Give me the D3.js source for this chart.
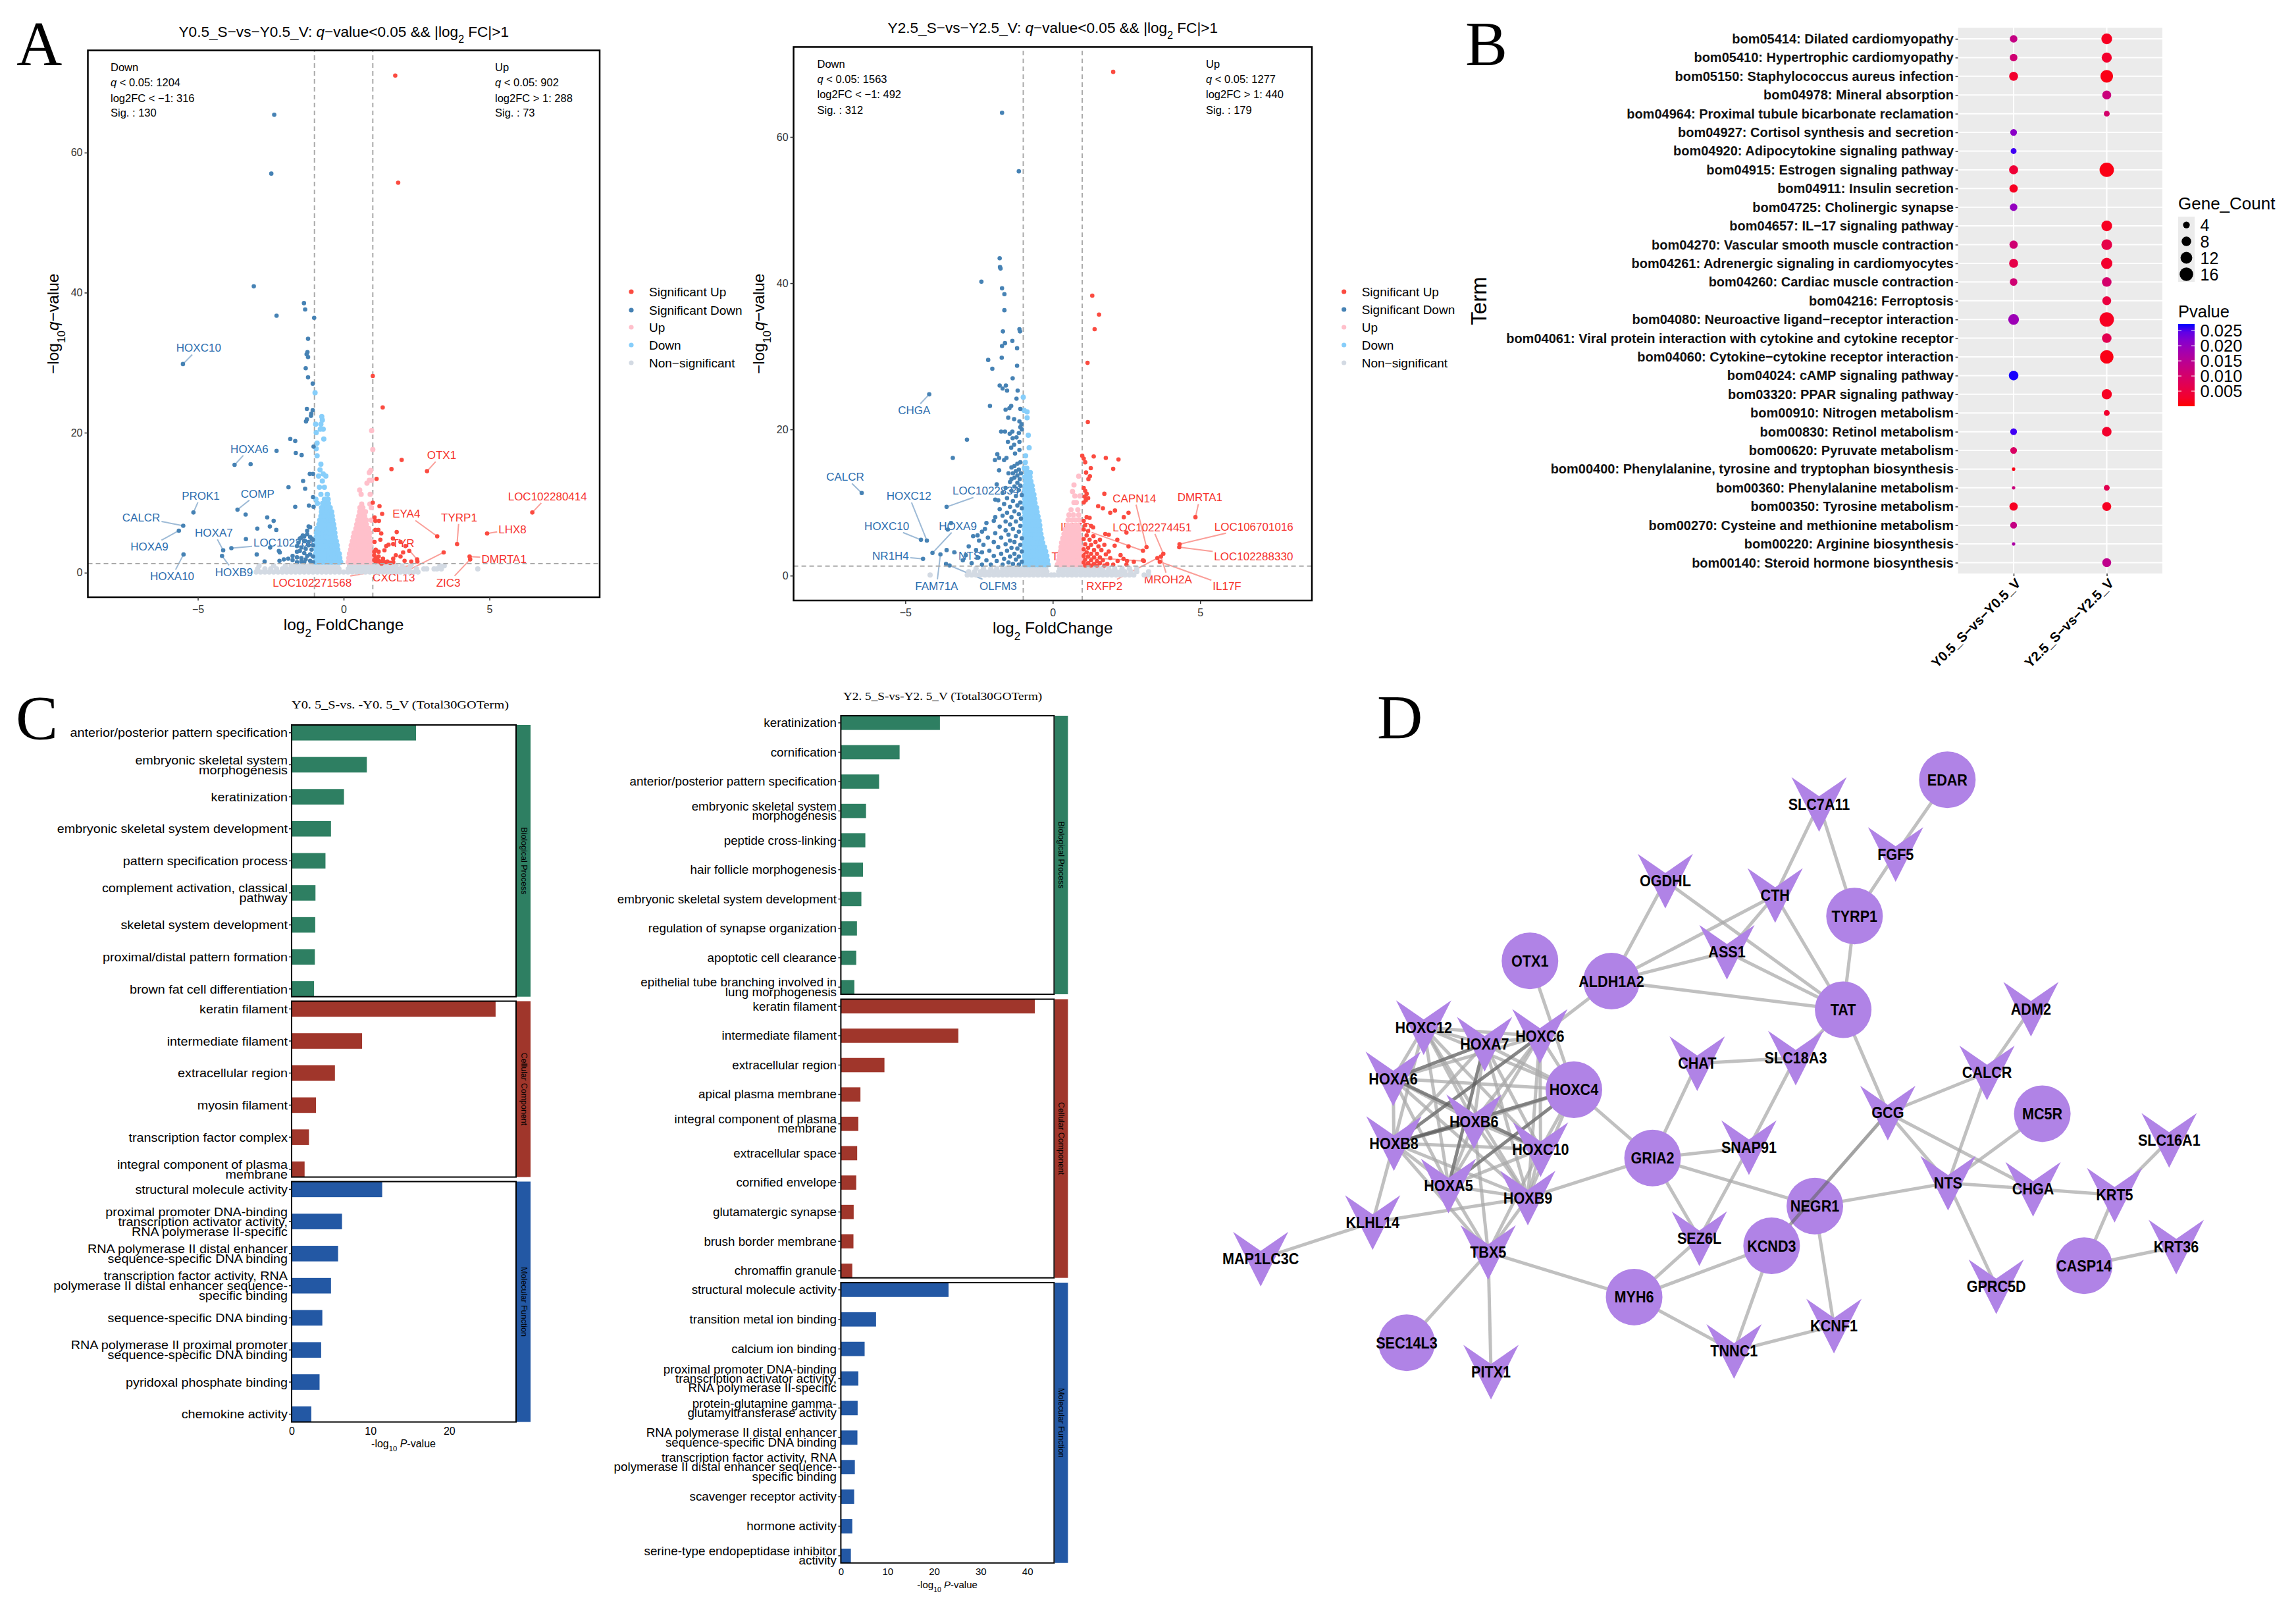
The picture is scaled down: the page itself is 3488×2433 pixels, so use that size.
<!DOCTYPE html>
<html><head><meta charset="utf-8">
<script src="https://cdnjs.cloudflare.com/ajax/libs/d3/7.8.5/d3.min.js"></script>
<style>html,body{margin:0;background:#fff}svg{display:block}text{font-family:"Liberation Sans",Arial,sans-serif}</style>
</head><body><svg id="fig" width="3488" height="2433"></svg>
<script>
// ---------- Panel A data: volcano plots (log2FC, -log10 q) ----------
const a_sigDown=[[-2.38,65.4],[-2.48,57],[-3.08,40.9],[-1.36,38.5],[-1.32,37.6],[-2.3,36.7],[-1.01,36.4],[-1.22,33.4],[-1.24,31.5],[-1.27,31.2],[-1.22,30.8],[-1.3,29.2],[-1.22,27.9],[-1.06,27],[-5.51,29.8],[-1.26,23.4],[-1.06,23.2],[-1.11,22.7],[-1.12,22.4],[-1.26,21.9],[-1.29,21.6],[-1.83,19.1],[-1.66,18.8],[-2.3,17.4],[-1.64,17.1],[-1.44,16.8],[-1.03,18],[-3.74,15.4],[-3.19,15.5],[-1.16,14.1],[-1.05,14.1],[-1.39,13.1],[-1.89,12.2],[-1.32,12],[-1.19,9.6],[-1.66,9.4],[-1.03,9.4],[-1.05,10.8],[-3.64,9],[-3.36,8.3],[-5.15,8.6],[-2.62,7.9],[-2.4,7.4],[-2.96,6.3],[-2.53,6.6],[-2.31,6.1],[-5.5,6.7],[-5.65,6],[-3.35,4.8],[-4.13,3.2],[-3.85,3.5],[-5.49,2.6],[-4.17,2.4],[-2.52,3.6],[-2.98,2.6],[-2.71,1.6],[-2.22,3.1],[-2.19,2.9],[-1.2,6.6],[-1.15,6.5],[-1.25,6],[-1.35,5.2],[-1.25,5.5],[-1.4,5.3],[-1.45,5],[-1.5,4.9],[-1.15,5.1],[-1.1,4.9],[-1.2,4.4],[-1.35,4.5],[-1.05,4.7],[-1.55,4.3],[-1.6,3.8],[-1.45,3.6],[-1.3,3.4],[-1.1,3.3],[-1.05,3.9],[-1.2,3.9],[-1.5,3.1],[-1.6,3],[-1.35,2.8],[-1.15,2.6],[-1.25,2.4],[-1.75,2.4],[-1.9,2],[-1.45,2.1],[-1.6,2.2],[-1.05,2.3],[-2.05,1.9],[-1.3,1.9],[-1.15,1.7],[-1.45,1.6],[-1.75,1.8],[-2.2,1.7],[-1.35,1.5],[-1.05,1.5],[-1.6,1.5]];
const a_sigUp=[[1.77,71],[1.87,55.7],[1,28.1],[1.34,23.6],[1.99,16.1],[2.86,14.5],[1.64,14.8],[1.13,13.4],[1,10],[1.23,9.5],[6.47,8.6],[1.32,8.4],[1.06,7.9],[1.09,7.4],[1.21,7.4],[1.19,6.1],[1.09,6.1],[1.82,5.8],[4.92,5.6],[3.21,5.2],[1.29,5.6],[1.26,4.7],[1.69,4.9],[1.95,4.4],[1.7,4.1],[1.46,3.8],[1.06,4.4],[3.89,4.1],[3.43,2.9],[2.12,3.8],[1.54,4],[2.25,3.1],[2.04,2.9],[1.79,2.5],[1.95,2.3],[1.7,2],[2.09,1.7],[2.32,1.6],[2.52,1.9],[2.53,1.6],[4.32,2.3],[4.34,1.9],[1.05,2.5],[1.1,2.1],[1.15,1.9],[1.2,1.7],[1.25,1.5],[1.3,1.6],[1.35,2],[1.4,1.5],[1.1,1.5],[1.05,1.8],[1.45,1.5],[1.5,1.6],[1.2,2.3],[1.3,1.3],[1.6,1.4],[1.05,3],[1.1,3.3],[1.2,3],[1.4,3.2],[1.7,1.5]];
const a_downRows=[[1.5,[-.96,-.85,-.74,-.63,-.52,-.41,-.3,-.19,-.1]],[2.1,[-.95,-.84,-.73,-.62,-.51,-.4,-.29,-.18,-.13]],[2.7,[-.96,-.85,-.74,-.63,-.52,-.41,-.3,-.2,-.15]],[3.3,[-.95,-.84,-.73,-.62,-.51,-.4,-.29,-.2]],[3.9,[-.96,-.85,-.74,-.63,-.52,-.41,-.3,-.22]],[4.5,[-.95,-.84,-.73,-.62,-.51,-.4,-.31,-.25]],[5.1,[-.94,-.83,-.72,-.61,-.5,-.39,-.29]],[5.7,[-.93,-.82,-.71,-.6,-.49,-.38,-.3]],[6.3,[-.92,-.81,-.7,-.59,-.48,-.37,-.32]],[6.9,[-.85,-.74,-.63,-.52,-.41,-.34]],[7.5,[-.82,-.72,-.62,-.52,-.43,-.37]],[8.1,[-.78,-.68,-.58,-.48,-.39]],[8.7,[-.76,-.66,-.56,-.46,-.41]],[9.3,[-.76,-.66,-.56,-.46]],[9.9,[-.9,-.72,-.62,-.52]],[10.5,[-.95,-.66,-.53]],[11.2,[-.78,-.56]],[12.2,[-.83,-.66]],[13.1,[-.73]],[13.8,[-.86,-.61]],[14.1,[-.7]],[14.7,[-.81]],[15.5,[-.78]],[16.7,[-.91]],[17.7,[-.94]],[18.5,[-.91]],[19.1,[-.68]],[20,[-.94]],[20.5,[-.7,-.8]],[21.2,[-.96,-.78]],[21.8,[-.73]],[22.3,[-.75]],[25.7,[-.98]]];
const a_upRows=[[1.5,[.16,.27,.38,.49,.6,.71,.82,.93]],[2.1,[.18,.29,.4,.51,.62,.73,.84,.95]],[2.7,[.2,.31,.42,.53,.64,.75,.86,.96]],[3.3,[.24,.35,.46,.57,.68,.79,.9]],[3.9,[.26,.37,.48,.59,.7,.81,.92]],[4.5,[.3,.41,.52,.63,.74,.85,.94]],[5.1,[.33,.44,.55,.66,.77,.88]],[5.7,[.36,.47,.58,.69,.8,.9]],[6.3,[.42,.53,.64,.75,.86]],[6.9,[.45,.56,.67,.78]],[7.5,[.48,.58,.68,.78,.95]],[8.1,[.52,.62,.72]],[8.7,[.55,.65,.75]],[9.3,[.56,.66,.95]],[9.8,[.62,.9]],[11.2,[.6,.91]],[11.8,[.55]],[12.8,[.8]],[13.2,[.88,.96]],[14.3,[.88]],[14.6,[.93]],[17.6,[1]],[20.3,[.96]]];
const a_nsRows=[[.1,[-3,-2.85,-2.7,-2.55,-2.4,-2.25,-2.1,-1.95,-1.8,-1.65,-1.5,-1.35,-1.2,-1.05,-.9,-.75,-.6,-.45,-.3,-.15,0,.15,.3,.45,.6,.75,.9,1.05,1.2,1.35,1.5,1.65,1.8,1.95,2.1,2.25,2.4,2.55]],[.55,[-2.95,-2.7,-2.5,-2.3,-2.1,-1.95,-1.8,-1.65,-1.5,-1.35,-1.2,-1.05,-.9,-.75,-.6,-.45,-.3,-.16,.16,.3,.45,.6,.75,.9,1.05,1.2,1.35,1.5,1.65,1.8,1.95,2.1,2.25,2.5,2.75,2.85,3.1,3.2,3.35,4.6]],[1,[-2.9,-2.4,-2,-1.8,-1.65,-1.5,-1.35,-1.2,-1.05,-.9,-.75,-.6,-.45,-.3,-.2,.2,.3,.45,.6,.75,.9,1.05,1.2,1.35,1.5,1.65,1.8,2,2.3,3.3,3.45]]];
const a_labels=[["HOXC10",-4.97,32.1,-5.51,29.8,0],["HOXA6",-3.23,17.7,-3.74,15.4,0],["PROK1",-4.9,11,-5.15,8.6,0],["COMP",-2.95,11.3,-3.64,9,0],["CALCR",-6.94,7.9,-5.5,6.7,0],["HOXA9",-6.66,3.7,-5.65,6,0],["HOXA7",-4.45,5.7,-4.13,3.2,0],["LOC102284275",-1.74,4.3,-3.85,3.5,0],["HOXA10",-5.88,-.5,-5.49,2.6,0],["HOXB9",-3.76,.1,-4.17,2.4,0],["OTX1",3.36,16.8,2.86,14.5,1],["LOC102280414",6.99,10.9,6.47,8.6,1],["EYA4",2.15,8.4,3.21,5.2,1],["TYRP1",3.96,7.9,3.89,4.1,1],["LHX8",5.79,6.2,4.92,5.6,1],["TYR",2.04,4.2,2.52,1.9,1],["DMRTA1",5.5,2,4.32,2.3,1],["CXCL13",1.72,-.7,3.43,2.9,1],["LOC102271568",-1.08,-1.4,2.4,1.1,1],["ZIC3",3.59,-1.4,4.34,1.9,1]];
const b_sigDown=[[-1.72,63.3],[-1.15,55.3],[-1.8,43.4],[-1.79,42.2],[-1.77,42],[-2.42,40.2],[-1.72,39.3],[-1.64,38.5],[-1.64,36.3],[-1.69,33.4],[-1.13,33.7],[-1.11,33.4],[-1.37,32.1],[-1.62,31.8],[-1.72,31.4],[-1.21,31.1],[-1.73,29.8],[-2.19,29.5],[-1.21,28.7],[-2.05,28.3],[-1.36,27],[-1.8,26],[-1.59,26],[-1.7,25.6],[-1.55,25.3],[-1.19,25.3],[-4.19,24.8],[-1.23,24.2],[-2.13,23.2],[-1.41,23.2],[-1.47,22.9],[-1.1,22.8],[-1.6,22.7],[-1.51,21.6],[-1.31,21.4],[-1.13,21.1],[-1.06,20.7],[-1.1,20.3],[-1.05,20],[-1.75,19.7],[-1.62,19.7],[-1.37,19.7],[-1.46,19.4],[-1.15,19.5],[-2.91,18.6],[-1.36,18.8],[-1.23,18.9],[-1.52,18.3],[-1.13,18.3],[-1.31,17.9],[-1.41,17.5],[-1.13,17.2],[-1.28,16.7],[-1.88,16.6],[-3.39,16.1],[-1.82,16.1],[-1.57,16.1],[-1.96,15.8],[-1.65,15.8],[-6.48,11.3],[-3.6,9.4],[-4.47,4.9],[-4.27,4.8],[-4.08,3.1],[-4.4,2.3],[-3.81,2.9],[-3.6,3.5],[-3.34,3.2],[-3.62,1.6],[-3.5,1.4],[-3.45,7.2],[-3.56,6.3],[-2.55,5.5],[-1.1,15.5],[-1.2,15.3],[-1.3,15],[-1.4,14.8],[-1.15,14.5],[-1.25,14.3],[-1.35,14],[-1.08,14],[-1.2,13.7],[-1.3,13.4],[-1.12,13.2],[-1.4,13.2],[-1.82,14.4],[-1.5,14],[-1.45,12.8],[-1.2,12.7],[-1.1,12.3],[-1.3,12.2],[-1.9,12.5],[-1.6,12],[-1.15,11.7],[-1.4,11.6],[-1.7,11.3],[-1.05,11],[-1.25,10.9],[-1.55,10.6],[-1.95,10.4],[-1.85,10.3],[-1.35,10.2],[-1.1,10],[-1.65,9.8],[-1.2,9.6],[-1.45,9.4],[-1.05,9.2],[-1.8,9.1],[-1.3,8.8],[-1.55,8.6],[-1.15,8.4],[-1.7,8.2],[-1.95,8],[-1.4,8],[-1.08,7.8],[-2,7.5],[-1.6,7.4],[-1.25,7.4],[-2.25,7.2],[-1.45,7],[-1.1,6.8],[-1.8,6.7],[-2.3,6.4],[-1.35,6.4],[-1.6,6.2],[-2.4,6],[-1.15,6],[-1.95,5.8],[-1.5,5.6],[-2.7,5.4],[-2.2,5.2],[-1.25,5.4],[-1.75,5.2],[-1.05,5.1],[-2.5,4.8],[-1.45,4.8],[-2,4.6],[-1.3,4.6],[-1.6,4.3],[-1.1,4.2],[-2.35,4.2],[-2.85,4],[-1.85,3.9],[-1.4,3.8],[-1.2,3.7],[-2.6,3.5],[-2.15,3.4],[-1.55,3.4],[-1.05,3.3],[-2.4,3.2],[-1.75,3],[-1.3,3],[-2.95,2.8],[-2,2.7],[-1.45,2.6],[-1.15,2.6],[-2.55,2.5],[-1.65,2.3],[-1.25,2.2],[-2.25,2.1],[-3.05,2.1],[-1.9,2],[-1.05,1.9],[-1.5,1.8],[-2.75,1.7],[-1.35,1.6],[-2.1,1.5],[-1.7,1.5],[-1.15,1.5],[-2.4,1.5]];
const b_sigUp=[[2.05,68.9],[1.34,38.3],[1.57,35.7],[1.42,33.7],[1.18,29.1],[1.19,21],[1,16.4],[1.39,16.3],[1.8,16.1],[2.23,15.9],[1.05,16],[1.1,15.5],[2.05,14.6],[1.29,14.7],[1.13,14.1],[1.26,13.6],[1.21,13.2],[1.75,11.2],[1.54,9.5],[1.7,9.2],[1.95,8.6],[2.57,8.6],[2.41,8],[4.84,8],[2.11,8.9],[2.5,5.9],[1.37,6.6],[1.78,5.7],[1.9,5.6],[2.19,4.9],[2.57,4],[3.18,3.9],[3.06,3.4],[4.3,4.3],[4.29,3.9],[3.75,3],[3.67,2.6],[3.55,2.4],[3.63,1.9],[3.09,2],[3.06,2.1],[2.52,2],[1.05,12],[1.1,11.6],[1.15,11.2],[1.08,10.8],[1.2,10.6],[1.12,10.3],[1.05,10],[1.15,8],[1.05,7.5],[1.25,7.9],[1.1,6.9],[1.3,6.8],[1.05,6.3],[1.2,6.1],[1.15,5.5],[1.38,5.4],[1.05,5],[1.25,4.9],[1.6,4.9],[1.45,4.6],[1.1,4.3],[1.3,4.2],[1.75,4.2],[1.55,4],[2.1,4.1],[1.2,3.8],[1.05,3.6],[1.4,3.5],[1.65,3.5],[1.9,3.3],[1.15,3.2],[1.3,3],[1.5,3],[1.8,2.9],[2.3,2.8],[1.05,2.7],[1.2,2.6],[1.4,2.5],[1.6,2.5],[1.95,2.4],[2.4,2.3],[1.1,2.2],[1.3,2.1],[1.5,2],[1.7,2.1],[2.2,2],[2.75,1.9],[1.05,1.8],[1.2,1.7],[1.4,1.6],[1.6,1.7],[1.85,1.6],[2.05,1.5],[2.5,1.5],[1.1,1.4],[1.3,1.4],[1.5,1.4],[1.75,1.4]];
const b_downRows=[[1.5,[-.96,-.87,-.78,-.69,-.6,-.51,-.42,-.33,-.24,-.16]],[2.1,[-.95,-.86,-.77,-.68,-.59,-.5,-.41,-.32,-.23,-.18]],[2.7,[-.96,-.87,-.78,-.69,-.6,-.51,-.42,-.33,-.25,-.2]],[3.3,[-.95,-.86,-.77,-.68,-.59,-.5,-.41,-.32,-.24]],[3.9,[-.96,-.87,-.78,-.69,-.6,-.51,-.42,-.34,-.28]],[4.5,[-.95,-.86,-.77,-.68,-.59,-.5,-.41,-.34]],[5.1,[-.96,-.87,-.78,-.69,-.6,-.51,-.42,-.37]],[5.7,[-.95,-.86,-.77,-.68,-.59,-.5,-.4]],[6.3,[-.96,-.87,-.78,-.69,-.6,-.51,-.43]],[6.9,[-.95,-.86,-.77,-.68,-.59,-.5,-.44]],[7.5,[-.96,-.87,-.78,-.69,-.6,-.52,-.46]],[8.1,[-.95,-.86,-.77,-.68,-.59,-.5]],[8.7,[-.96,-.87,-.78,-.69,-.6,-.53]],[9.3,[-.95,-.86,-.77,-.68,-.6,-.55]],[9.9,[-.96,-.87,-.78,-.69,-.6]],[10.5,[-.95,-.86,-.77,-.68,-.62]],[11.1,[-.96,-.87,-.78,-.7,-.64]],[11.7,[-.95,-.86,-.77,-.68]],[12.3,[-.94,-.85,-.76,-.7]],[12.9,[-.92,-.83,-.74]],[13.5,[-.95,-.86,-.77]],[14.1,[-.9,-.81,-.76]],[14.7,[-.97,-.88]],[15.5,[-.93]],[16.4,[-.92]],[17.5,[-.8]],[19.2,[-.83]],[21.6,[-.87]],[22.4,[-.87]],[22.6,[-.97]],[24.4,[-1]]];
const b_upRows=[[1.5,[.16,.26,.36,.46,.56,.66,.76,.86,.96]],[2.1,[.2,.3,.4,.5,.6,.7,.8,.9,.97]],[2.7,[.22,.32,.42,.52,.62,.72,.82,.92]],[3.3,[.26,.36,.46,.56,.66,.76,.86,.96]],[3.9,[.28,.38,.48,.58,.68,.78,.88,.97]],[4.5,[.3,.4,.5,.6,.7,.8,.9]],[5.1,[.34,.44,.54,.64,.74,.84,.94]],[5.7,[.38,.48,.58,.68,.78,.88]],[6.3,[.42,.52,.62,.72,.82,.93]],[6.9,[.5,.62,.74,.86]],[7.6,[.52,.65,.78,.9]],[8.3,[.55,.7,.88]],[9,[.62,.85]],[10,[.72,.8]],[10.9,[.92,.75]],[11.5,[.67]],[12.4,[.72]],[13.6,[.88]]];
const b_nsRows=[[.1,[-2.9,-2.75,-2.6,-2.45,-2.3,-2.15,-2,-1.85,-1.7,-1.55,-1.4,-1.25,-1.1,-.95,-.8,-.65,-.5,-.35,-.2,-.05,.05,.2,.35,.5,.65,.8,.95,1.1,1.25,1.4,1.55,1.7,1.85,2,2.15,2.3,2.45,2.6,2.75,3.1,3.25,-4.16]],[.55,[-2.85,-2.65,-2.45,-2.3,-2.15,-2,-1.85,-1.7,-1.55,-1.4,-1.25,-1.1,-.95,-.8,-.65,-.5,-.35,-.2,.2,.35,.5,.65,.8,.95,1.1,1.25,1.4,1.55,1.7,1.85,2,2.15,2.3,2.45,2.65,2.85,3.25]],[1,[-2.6,-2.35,-2.1,-1.9,-1.7,-1.55,-1.4,-1.25,-1.1,-.95,-.8,-.65,-.5,-.35,-.24,.24,.35,.5,.65,.8,.95,1.1,1.25,1.4,1.55,1.7,1.9,2.1,2.35,2.6,2.85]]];
const b_labels=[["CHGA",-4.7,22.6,-4.19,24.8,0],["CALCR",-7.04,13.5,-6.48,11.3,0],["HOXC12",-4.88,10.9,-4.27,4.8,0],["LOC102283473",-2.06,11.6,-3.6,9.4,0],["HOXC10",-5.63,6.8,-4.47,4.9,0],["HOXA9",-3.22,6.8,-4.08,3.1,0],["NR1H4",-5.5,2.7,-4.4,2.3,0],["NTS",-2.82,2.7,-3.34,3.2,0],["FAM71A",-3.94,-1.4,-3.81,2.9,0],["OLFM3",-1.85,-1.4,-3.62,1.6,0],["CAPN14",2.77,10.6,3.18,3.9,1],["DMRTA1",4.99,10.7,4.84,8,1],["LOC102274451",3.37,6.6,3.75,3,1],["LOC106701016",6.82,6.7,4.3,4.3,1],["LOC102288330",6.81,2.6,4.29,3.9,1],["IL17C",.77,6.7,3.06,3.4,1],["TYRP1",.57,2.6,3.09,2,1],["RXFP2",1.75,-1.4,3.55,2.4,1],["MROH2A",3.91,-.5,3.67,2.6,1],["IL17F",5.91,-1.4,3.63,1.9,1]];
const legendNames=["Significant Up","Significant Down","Up","Down","Non\u2212significant"];
// ---------- Panel B data: KEGG bubbles ----------
const keggTerms=["bom05414: Dilated cardiomyopathy","bom05410: Hypertrophic cardiomyopathy","bom05150: Staphylococcus aureus infection","bom04978: Mineral absorption","bom04964: Proximal tubule bicarbonate reclamation","bom04927: Cortisol synthesis and secretion","bom04920: Adipocytokine signaling pathway","bom04915: Estrogen signaling pathway","bom04911: Insulin secretion","bom04725: Cholinergic synapse","bom04657: IL\u221217 signaling pathway","bom04270: Vascular smooth muscle contraction","bom04261: Adrenergic signaling in cardiomyocytes","bom04260: Cardiac muscle contraction","bom04216: Ferroptosis","bom04080: Neuroactive ligand\u2212receptor interaction","bom04061: Viral protein interaction with cytokine and cytokine receptor","bom04060: Cytokine\u2212cytokine receptor interaction","bom04024: cAMP signaling pathway","bom03320: PPAR signaling pathway","bom00910: Nitrogen metabolism","bom00830: Retinol metabolism","bom00620: Pyruvate metabolism","bom00400: Phenylalanine, tyrosine and tryptophan biosynthesis","bom00360: Phenylalanine metabolism","bom00350: Tyrosine metabolism","bom00270: Cysteine and methionine metabolism","bom00220: Arginine biosynthesis","bom00140: Steroid hormone biosynthesis"];
const keggComps=["Y0.5_S\u2212vs\u2212Y0.5_V","Y2.5_S\u2212vs\u2212Y2.5_V"];
const countY05=[5,5,7,null,null,4,3,7,6,5,null,6,7,5,null,10,null,null,8,null,null,4,4,1,1,6,4,1,null];
const pvalY05=[.013,.011,.003,null,null,.021,.026,.004,.002,.020,null,.011,.006,.011,null,.019,null,null,.027,null,null,.026,.009,.001,.012,.002,.013,.017,null];
const countY25=[10,9,14,7,3,null,null,18,null,null,10,10,11,8,7,18,8,16,null,9,3,8,null,null,3,7,null,null,7];
const pvalY25=[.002,.003,.001,.012,.010,null,null,.001,null,null,.002,.006,.003,.010,.005,.002,.007,.001,null,.002,.003,.003,null,null,.007,.002,null,null,.014];
const countLegend=[4,8,12,16];
const pLegend=[.025,.020,.015,.010,.005];
// ---------- Panel C data: GO bars ----------
const groupNames=["Biological Process","Cellular Component","Molecular Function"];
const groupColors=["#2E7F62","#A0362B","#2358A4"];
const go05BP=["anterior/posterior pattern specification","embryonic skeletal system |morphogenesis","keratinization","embryonic skeletal system development","pattern specification process","complement activation, classical |pathway","skeletal system development","proximal/distal pattern formation","brown fat cell differentiation"];
const go05BPv=[15.8,9.55,6.65,5,4.3,3.03,3,2.95,2.85];
const go05CC=["keratin filament","intermediate filament","extracellular region","myosin filament","transcription factor complex","integral component of plasma |membrane"];
const go05CCv=[25.9,8.95,5.5,3.1,2.2,1.65];
const go05MF=["structural molecule activity","proximal promoter DNA-binding |transcription activator activity, |RNA polymerase II-specific","RNA polymerase II distal enhancer |sequence-specific DNA binding","transcription factor activity, RNA |polymerase II distal enhancer sequence-|specific binding","sequence-specific DNA binding","RNA polymerase II proximal promoter |sequence-specific DNA binding","pyridoxal phosphate binding","chemokine activity"];
const go05MFv=[11.5,6.4,5.9,5,3.9,3.75,3.55,2.5];
const go25BP=["keratinization","cornification","anterior/posterior pattern specification","embryonic skeletal system |morphogenesis","peptide cross-linking","hair follicle morphogenesis","embryonic skeletal system development","regulation of synapse organization","apoptotic cell clearance","epithelial tube branching involved in |lung morphogenesis"];
const go25BPv=[21.25,12.6,8.2,5.4,5.25,4.75,4.4,3.45,3.3,2.9];
const go25CC=["keratin filament","intermediate filament","extracellular region","apical plasma membrane","integral component of plasma |membrane","extracellular space","cornified envelope","glutamatergic synapse","brush border membrane","chromaffin granule"];
const go25CCv=[41.6,25.2,9.35,4.2,3.75,3.5,3.3,2.75,2.7,2.45];
const go25MF=["structural molecule activity","transition metal ion binding","calcium ion binding","proximal promoter DNA-binding |transcription activator activity, |RNA polymerase II-specific","protein-glutamine gamma-|glutamyltransferase activity","RNA polymerase II distal enhancer |sequence-specific DNA binding","transcription factor activity, RNA |polymerase II distal enhancer sequence-|specific binding","scavenger receptor activity","hormone activity","serine-type endopeptidase inhibitor |activity"];
const go25MFv=[23.1,7.55,5.1,3.75,3.6,3.55,3,2.85,2.45,2.15];
// ---------- Panel D data: network ----------
const netNodes=[["EDAR","c",1076,120],["SLC7A11","v",895,173],["FGF5","v",1003,281],["OGDHL","v",678,339],["CTH","v",833,370],["TYRP1","c",945,415],["ASS1","v",765,493],["OTX1","c",487,512],["ALDH1A2","c",602,556],["TAT","c",929,618],["ADM2","v",1194,616],["HOXC12","v",337,656],["HOXA7","v",423,692],["HOXC6","v",501,675],["SLC18A3","v",862,722],["CHAT","v",723,734],["CALCR","v",1132,754],["HOXA6","v",294,767],["HOXC4","c",549,791],["MC5R","c",1210,843],["GCG","v",992,841],["HOXB6","v",408,860],["HOXB8","v",295,907],["HOXC10","v",502,920],["SNAP91","v",796,916],["GRIA2","c",660,939],["SLC16A1","v",1389,900],["HOXA5","v",372,999],["HOXB9","v",484,1025],["NTS","v",1077,993],["CHGA","v",1197,1006],["KRT5","v",1312,1019],["NEGR1","c",889,1043],["KLHL14","v",265,1078],["MAP1LC3C","v",107,1157],["SEZ6L","v",726,1113],["KCND3","c",828,1129],["TBX5","v",428,1143],["KRT36","v",1399,1131],["CASP14","c",1269,1172],["GPRC5D","v",1145,1217],["MYH6","c",634,1240],["KCNF1","v",916,1302],["SEC14L3","c",313,1339],["TNNC1","v",775,1357],["PITX1","v",432,1402]];
const netEdges=["EDAR-FGF5","FGF5-TYRP1","SLC7A11-TYRP1","SLC7A11-CTH","OGDHL-ALDH1A2","OGDHL-TAT","CTH-ALDH1A2","CTH-ASS1","CTH-TAT","ASS1-ALDH1A2","ASS1-TAT","ALDH1A2-TAT","TYRP1-TAT","ALDH1A2-HOXC6","OTX1-HOXC4","TAT-SLC18A3","TAT-GCG","SLC18A3-CHAT","SLC18A3-SNAP91","CHAT-GRIA2","ADM2-CALCR","CALCR-GCG","CALCR-NTS","MC5R-NTS","GCG-NTS","GCG-CHGA","NTS-CHGA","NTS-NEGR1","NTS-GPRC5D","CHGA-KRT5","KRT5-SLC16A1","KRT5-CASP14","CASP14-KRT36","GRIA2-SNAP91","GRIA2-NEGR1","GRIA2-SEZ6L","GRIA2-HOXC4","GRIA2-HOXB9","SNAP91-SEZ6L","SEZ6L-MYH6","KCND3-MYH6","KCND3-TNNC1","NEGR1-KCNF1","TNNC1-KCNF1","MYH6-TNNC1","TBX5-MYH6","TBX5-SEC14L3","TBX5-PITX1","KLHL14-MAP1LC3C","KLHL14-HOXB8","KLHL14-HOXB9","TBX5-HOXB8","TBX5-HOXA5","TBX5-HOXB9","TBX5-HOXC10","TBX5-HOXB6"];
const hoxClique=["HOXC12","HOXA7","HOXC6","HOXA6","HOXC4","HOXB6","HOXB8","HOXC10","HOXA5","HOXB9"];
const strongEdges=["HOXA6-HOXA7","HOXB8-HOXC4","HOXA5-HOXC4","HOXB8-HOXB6","HOXA6-HOXC10","HOXA7-HOXA5","HOXC6-HOXB8"];
const overEdge="GCG-KCND3";

// ---------- helpers ----------
const svg=d3.select("#fig");
svg.append("rect").attr("width",3488).attr("height",2433).attr("fill","#fff");
function T(g,x,y,s,o={}){
  const t=g.append("text").attr("transform",`translate(${x},${y})`+(o.rot?` rotate(${o.rot})`:"")+(o.sx?` scale(${o.sx},1)`:""))
   .attr("font-size",o.size||16).attr("text-anchor",o.anchor||"start").attr("fill",o.fill||"#000");
  if(o.weight)t.attr("font-weight",o.weight);
  if(o.family)t.style("font-family",o.family);
  t.html(s);return t;
}
const SUB='baseline-shift="sub" font-size="70%"';
const flatten=rows=>rows.flatMap(([y,xs])=>xs.map(x=>[x,y]));

// ---------- Panel letters ----------
[["A",25,99],["B",2226,99],["C",24,1123],["D",2092,1122]].forEach(([s,x,y])=>T(svg,x,y,s,{size:96,family:'"Liberation Serif",serif'}));

// ---------- Volcano ----------
const volColors={sigUp:"#FB4B40",sigDown:"#4682B4",up:"#FFC0CB",down:"#87CEFA",ns:"#D3DAE3"};
function volcano(c){
  const g=svg.append("g");
  const x=d3.scaleLinear().domain(c.xd).range(c.xr), y=d3.scaleLinear().domain(c.yd).range(c.yr);
  g.append("rect").attr("x",c.xr[0]).attr("y",c.yr[1]).attr("width",c.xr[1]-c.xr[0]).attr("height",c.yr[0]-c.yr[1]).attr("fill","#fff");
  [-1,1].forEach(v=>g.append("line").attr("x1",x(v)).attr("x2",x(v)).attr("y1",c.yr[0]).attr("y2",c.yr[1]).attr("stroke","#aaa").attr("stroke-width",2).attr("stroke-dasharray","7,5"));
  // labels under the points
  const lab=g.append("g");
  c.labels.forEach(([s,lx,ly,px,py,up])=>{
    const col=up?"#F6322C":"#2C6DAE", seg=up?"#FA9E98":"#9DBAD6";
    const t=T(lab,x(lx),y(ly)+6,s,{size:17,anchor:"middle",fill:col});
    const w=t.node().getComputedTextLength()/2+2,h=10;
    const X0=x(px),Y0=y(py),X1=x(lx),Y1=y(ly);
    const dx=X0-X1,dy=Y0-Y1,k=Math.min(dx?w/Math.abs(dx):9,dy?h/Math.abs(dy):9);
    lab.insert("line","text").attr("x1",X1+dx*k).attr("y1",Y1+dy*k).attr("x2",X0).attr("y2",Y0).attr("stroke",seg).attr("stroke-width",2);
  });
  const layer=(pts,col,r=3.3,op=1)=>g.append("g").selectAll("circle").data(pts).join("circle").attr("cx",d=>x(d[0])).attr("cy",d=>y(d[1])).attr("r",r).attr("fill",col).attr("opacity",op);
  layer(flatten(c.ns),volColors.ns,4);
  layer(flatten(c.up),volColors.up,4);
  layer(flatten(c.down),volColors.down,4);
  layer(c.sigUp,volColors.sigUp);
  layer(c.sigDown,volColors.sigDown);
  g.append("line").attr("x1",c.xr[0]).attr("x2",c.xr[1]).attr("y1",y(1.3)).attr("y2",y(1.3)).attr("stroke","#aaa").attr("stroke-width",2).attr("stroke-dasharray","7,5");
  g.append("rect").attr("x",c.xr[0]).attr("y",c.yr[1]).attr("width",c.xr[1]-c.xr[0]).attr("height",c.yr[0]-c.yr[1]).attr("fill","none").attr("stroke","#000").attr("stroke-width",2.5);
  const ax=g.append("g").attr("transform",`translate(0,${c.yr[0]})`).call(d3.axisBottom(x).tickValues([-5,0,5]).tickSize(5).tickFormat(d=>d<0?"\u2212"+(-d):d));
  const ay=g.append("g").attr("transform",`translate(${c.xr[0]},0)`).call(d3.axisLeft(y).tickValues([0,20,40,60]).tickSize(5));
  [ax,ay].forEach(a=>{a.select(".domain").remove();a.selectAll("line").attr("stroke","#333").attr("stroke-width",1.5);a.selectAll("text").attr("font-size",16).attr("fill","#333").style("font-family",'"Liberation Sans"');});
  ax.selectAll("text").attr("dy","1.0em");
  T(g,(c.xr[0]+c.xr[1])/2,c.titleY,c.title,{size:22.6,anchor:"middle"});
  T(g,x(0),c.xlabY,`log<tspan ${SUB}>2</tspan> FoldChange`,{size:24.5,anchor:"middle"});
  T(g,c.ylabX,(c.yr[0]+c.yr[1])/2-c.ylabShift,`\u2212log<tspan ${SUB}>10</tspan><tspan font-style="italic">q</tspan>\u2212value`,{size:24.5,anchor:"middle",rot:-90});
  c.annDown.forEach((s,i)=>T(g,c.annX[0],c.annY[i],s,{size:16.5}));
  c.annUp.forEach((s,i)=>T(g,c.annX[1],c.annY[i],s,{size:16.5}));
  const lc=[volColors.sigUp,volColors.sigDown,volColors.up,volColors.down,volColors.ns];
  legendNames.forEach((s,i)=>{
    g.append("circle").attr("cx",c.legX).attr("cy",c.legY[i]).attr("r",3.6).attr("fill",lc[i]);
    T(g,c.legX+27,c.legY[i]+6.5,s,{size:19});
  });
}
const Q='<tspan font-style="italic">q</tspan>';
volcano({xd:[-8.77,8.78],xr:[133.5,911],yd:[-3.5,74.6],yr:[907,76.5],ns:a_nsRows,up:a_upRows,down:a_downRows,sigUp:a_sigUp,sigDown:a_sigDown,labels:a_labels,
 title:`Y0.5_S\u2212vs\u2212Y0.5_V: ${Q}\u2212value&lt;0.05 &amp;&amp; |log<tspan ${SUB}>2</tspan> FC|&gt;1`,titleY:56,xlabY:957,ylabX:89,ylabShift:0,
 annDown:["Down",`${Q} &lt; 0.05: 1204`,"log2FC &lt; \u22121: 316","Sig. : 130"],annUp:["Up",`${Q} &lt; 0.05: 902`,"log2FC &gt; 1: 288","Sig. : 73"],annX:[168,752],annY:[108,131,155,177],legX:959,legY:[443,471,497,524,551]});
volcano({xd:[-8.79,8.79],xr:[1205.6,1993],yd:[-3.4,72.3],yr:[912,71.4],ns:b_nsRows,up:b_upRows,down:b_downRows,sigUp:b_sigUp,sigDown:b_sigDown,labels:b_labels,
 title:`Y2.5_S\u2212vs\u2212Y2.5_V: ${Q}\u2212value&lt;0.05 &amp;&amp; |log<tspan ${SUB}>2</tspan> FC|&gt;1`,titleY:50,xlabY:962,ylabX:1161,ylabShift:0,
 annDown:["Down",`${Q} &lt; 0.05: 1563`,"log2FC &lt; \u22121: 492","Sig. : 312"],annUp:["Up",`${Q} &lt; 0.05: 1277`,"log2FC &gt; 1: 440","Sig. : 179"],annX:[1241.5,1832],annY:[103,126,149,173],legX:2041.7,legY:[443,470,497,524,551]});

// ---------- Panel B ----------
(function(){
  const g=svg.append("g");
  const x=d3.scalePoint().domain(keggComps).range([3059,3200.5]), y=d3.scalePoint().domain(keggTerms).range([59,854.5]);
  const r=d3.scaleSqrt().domain([0,16]).range([0,10.3]);
  const color=d3.scaleLinear().domain([0,.0272]).range(["#FF0000","#0000FF"]).interpolate(d3.interpolateLab);
  g.append("rect").attr("x",2974.6).attr("y",42).attr("width",310.4).attr("height",829).attr("fill","#EBEBEB");
  g.selectAll(".h").data(keggTerms).join("line").attr("x1",2974.6).attr("x2",3285).attr("y1",d=>y(d)).attr("y2",d=>y(d)).attr("stroke","#fff").attr("stroke-width",2);
  g.selectAll(".v").data(keggComps).join("line").attr("x1",d=>x(d)).attr("x2",d=>x(d)).attr("y1",42).attr("y2",871).attr("stroke","#fff").attr("stroke-width",2);
  const ay=g.append("g").attr("transform","translate(2974.6,0)").call(d3.axisLeft(y).tickSize(4).tickFormat(""));
  const ax=g.append("g").attr("transform","translate(0,871)").call(d3.axisBottom(x).tickSize(4).tickFormat(""));
  [ax,ay].forEach(a=>{a.select(".domain").remove();a.selectAll("line").attr("stroke","#333").attr("stroke-width",1.5);});
  keggTerms.forEach(t=>T(g,2968,y(t)+7,t,{size:20,anchor:"end",weight:"bold",sx:1,fill:"#111"}));
  keggComps.forEach(c=>T(g,x(c)+12,887,c,{size:20.5,anchor:"end",weight:"bold",rot:-45}));
  const pts=[];
  keggTerms.forEach((t,i)=>{
    if(countY05[i]!=null)pts.push([keggComps[0],t,countY05[i],pvalY05[i]]);
    if(countY25[i]!=null)pts.push([keggComps[1],t,countY25[i],pvalY25[i]]);
  });
  g.selectAll(".dot").data(pts).join("circle").attr("cx",d=>x(d[0])).attr("cy",d=>y(d[1])).attr("r",d=>r(d[2])).attr("fill",d=>color(d[3]));
  T(g,2258,457,"Term",{size:33,anchor:"middle",rot:-90});
  T(g,3309,318,"Gene_Count",{size:26});
  g.append("rect").attr("x",3309).attr("y",329).attr("width",25).attr("height",99).attr("fill","#EBEBEB");
  const ly=d3.scalePoint().domain(countLegend).range([341.6,416.5]);
  countLegend.forEach(c=>{g.append("circle").attr("cx",3321.5).attr("cy",ly(c)).attr("r",r(c)).attr("fill","#000");T(g,3342.6,ly(c)+9,c,{size:25});});
  T(g,3309,482,"Pvalue",{size:25.5});
  const grad=svg.append("defs").append("linearGradient").attr("id","pg").attr("x1",0).attr("x2",0).attr("y1",1).attr("y2",0);
  d3.range(0,1.001,.1).forEach(t=>grad.append("stop").attr("offset",t).attr("stop-color",color(t*.0272)));
  g.append("rect").attr("x",3309).attr("y",492).attr("width",25).attr("height",125).attr("fill","url(#pg)");
  const py=d3.scaleLinear().domain([0,.0272]).range([617,492]);
  pLegend.forEach(p=>{T(g,3342.6,py(p)+9,p.toFixed(3),{size:25.5});
    g.append("line").attr("x1",3309).attr("x2",3314).attr("y1",py(p)).attr("y2",py(p)).attr("stroke","#fff");g.append("line").attr("x1",3329).attr("x2",3334).attr("y1",py(p)).attr("y2",py(p)).attr("stroke","#fff");});
})();

// ---------- Panel C ----------
function goPanel(c){
  const g=svg.append("g");
  const x=d3.scaleLinear().domain(c.xd).range(c.xr);
  c.groups.forEach(([names,vals,top,bot],gi)=>{
    const y=d3.scaleBand().domain(names).range([top,bot]).paddingInner(.515).paddingOuter(0);
    g.selectAll(null).data(names).join("rect").attr("x",x(0)).attr("y",d=>y(d)).attr("width",(d,i)=>x(vals[i])-x(0)).attr("height",y.bandwidth()).attr("fill",groupColors[gi]);
    g.append("rect").attr("x",x(0)).attr("y",top).attr("width",c.xr[1]-c.xr[0]).attr("height",bot-top).attr("fill","none").attr("stroke","#000").attr("stroke-width",2);
    g.append("rect").attr("x",c.xr[1]+1).attr("y",top).attr("width",c.stripW).attr("height",bot-top).attr("fill",groupColors[gi]);
    T(g,c.xr[1]+c.stripW/2-3,(top+bot)/2+c.stripShift[gi],groupNames[gi],{size:12.5,anchor:"middle",rot:90,sx:c.stripSx});
    const a=g.append("g").attr("transform",`translate(${x(0)},0)`).call(d3.axisLeft(y).tickSize(4).tickFormat(""));
    a.select(".domain").remove();a.selectAll("line").attr("stroke","#222").attr("stroke-width",1.5);
    names.forEach(n=>{
      const lines=n.split("|").map(s=>s.trim()),cy=y(n)+y.bandwidth()/2;
      lines.forEach((l,i)=>T(g,c.labelX,cy+(i-(lines.length-1)/2)*c.lh+c.size*.35,l,{size:c.size,anchor:"end",sx:c.labSx}));
    });
  });
  const ax=g.append("g").attr("transform",`translate(0,${c.groups[2][3]})`).call(d3.axisBottom(x).tickValues(c.ticks).tickSize(0));
  ax.select(".domain").remove();
  ax.selectAll("text").attr("font-size",c.tickSize).attr("fill","#000").attr("dy",c.tickDy).style("font-family",'"Liberation Sans"');
  T(g,c.xlab[0],c.xlab[1],`-log<tspan ${SUB}>10</tspan> <tspan font-style="italic">P</tspan>-value`,{size:c.xlabSize,anchor:"middle"});
  T(g,c.title[0],c.title[1],c.title[2],{size:c.title[3],family:'"Liberation Serif",serif',sx:c.title[4]});
}
goPanel({xd:[0,28.5],xr:[443,784],groups:[[go05BP,go05BPv,1101,1513.7],[go05CC,go05CCv,1520.5,1787.6],[go05MF,go05MFv,1794.5,2159.6]],stripW:21,stripShift:[0,0,0],stripSx:1,labelX:437,lh:15,size:19,labSx:1.04,ticks:[0,10,20],tickSize:16,tickDy:"1em",xlab:[613,2198],xlabSize:16,title:[443,1076,"Y0. 5_S-vs. -Y0. 5_V (Total30GOTerm)",16,1.27]});
goPanel({xd:[0,45.75],xr:[1277.4,1601.4],groups:[[go25BP,go25BPv,1087,1510],[go25CC,go25CCv,1517.5,1940.7],[go25MF,go25MFv,1948,2373.7]],stripW:20,stripShift:[0,0,0],stripSx:1,labelX:1271,lh:14.3,size:18,labSx:1.045,ticks:[0,10,20,30,40],tickSize:15,tickDy:"1em",xlab:[1439,2412],xlabSize:15,title:[1281,1063,"Y2. 5_S-vs-Y2. 5_V (Total30GOTerm)",16,1.2]});

// ---------- Panel D ----------
(function(){
  const g=svg.append("g");
  const x=d3.scaleLinear().domain([0,1568]).range([1800,3488]), y=d3.scaleLinear().domain([0,1568]).range([1100,2200]);
  const pos=new Map(netNodes.map(n=>[n[0],n]));
  const pairs=netEdges.map(e=>e.split("-"));
  hoxClique.forEach((a,i)=>hoxClique.slice(i+1).forEach(b=>pairs.push([a,b])));
  const edge=(sel,ps,col,op)=>sel.selectAll(null).data(ps).join("line").attr("x1",d=>x(pos.get(d[0])[2])).attr("y1",d=>y(pos.get(d[0])[3])).attr("x2",d=>x(pos.get(d[1])[2])).attr("y2",d=>y(pos.get(d[1])[3])).attr("stroke",col).attr("stroke-opacity",op).attr("stroke-width",5);
  edge(g.append("g"),pairs,"#A8A8A8",.72);
  edge(g.append("g"),strongEdges.map(e=>e.split("-")),"#555",.55);
  const vShape={draw(ctx){ctx.moveTo(-42,-41);ctx.lineTo(0,-12);ctx.lineTo(42,-41);ctx.lineTo(0,42);ctx.closePath();}};
  const vPath=d3.symbol().type(vShape)();
  const nodeCol="#B083E6";
  const draw=n=>{
    if(n[1]==="c")g.append("circle").attr("cx",x(n[2])).attr("cy",y(n[3])).attr("r",43).attr("fill",nodeCol);
    else g.append("path").attr("d",vPath).attr("transform",`translate(${x(n[2])},${y(n[3])})`).attr("fill",nodeCol);
  };
  netNodes.filter(n=>n[0]==="NEGR1").forEach(draw);
  edge(g.append("g"),[overEdge.split("-")],"#666",.6);
  netNodes.filter(n=>n[0]!=="NEGR1").forEach(draw);
  netNodes.forEach(n=>T(g,x(n[2]),y(n[3])+8.5,n[0],{size:24,anchor:"middle",weight:"bold",sx:.9}));
})();
</script></body></html>
